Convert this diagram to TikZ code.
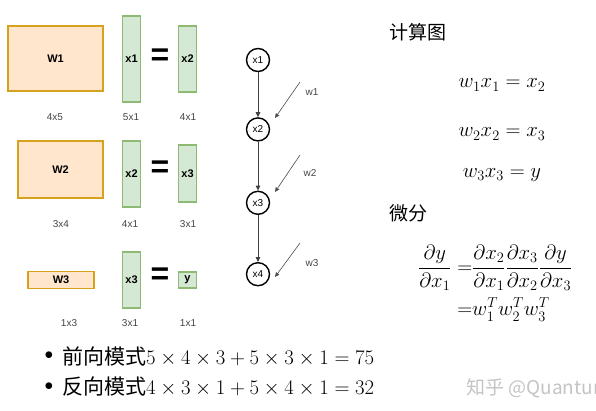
\documentclass[tikz,border=0pt]{standalone}
\usepackage{amsmath}
\usepackage{fontspec}
\usepackage{tikz}
\usetikzlibrary{arrows.meta, positioning}
\newfontfamily\cjk{Noto Sans CJK SC}
\newfontfamily\lblfont{Liberation Sans}
\definecolor{wfill}{HTML}{FFE6CC}
\definecolor{wline}{HTML}{D6A21E}
\definecolor{xfill}{HTML}{D5E8D4}
\definecolor{xline}{HTML}{8DBB74}
\definecolor{dimgray}{HTML}{444444}
\definecolor{markgray}{HTML}{C4C4C4}
\tikzset{
  wmat/.style={rectangle, draw=wline, fill=wfill, line width=1.5pt,
    inner sep=0pt, font=\lblfont\bfseries\fontsize{11}{13}\selectfont},
  xvec/.style={rectangle, draw=xline, fill=xfill, line width=1.5pt,
    inner sep=0pt, minimum width=18pt, font=\lblfont\bfseries\fontsize{11}{13}\selectfont},
  eqsign/.style={inner sep=0pt, font=\lblfont\bfseries\fontsize{32}{32}\selectfont},
  dimlbl/.style={inner sep=0pt, text=dimgray, font=\lblfont\fontsize{10}{12}\selectfont},
  gnode/.style={circle, draw, line width=1.4pt, minimum size=23pt, inner sep=0pt,
    font=\lblfont\fontsize{10}{12}\selectfont},
  wlbl/.style={inner sep=0pt, text=dimgray, font=\lblfont\fontsize{10}{12}\selectfont},
  garrow/.style={-{Triangle[length=5pt,width=4.5pt]}, line width=1pt, draw=black!75},
  warrow/.style={-{Triangle[length=4.5pt,width=4pt]}, line width=0.6pt, draw=black!70},
  mathtxt/.style={inner sep=0pt, font=\fontsize{20}{24}\selectfont},
  bigmath/.style={inner sep=0pt, font=\fontsize{21}{25}\selectfont},
  cjktxt/.style={inner sep=0pt, font=\cjk\fontsize{19}{22}\selectfont}
}

\begin{document}
\begin{tikzpicture}[x=1pt, y=-1pt, node distance=46pt]
  \path[use as bounding box, clip] (0,0) rectangle (596,410);

  % matrices and vectors
  \node[wmat, minimum width=95pt, minimum height=65pt] (W1) at (55.5,58.5) {W1};
  \node[xvec, minimum height=86pt] (x1a) at (131.5,59) {x1};
  \node[eqsign] (eq1) at (160,57) {=};
  \node[xvec, minimum height=66pt] (x2a) at (187.5,59) {x2};
  \node[dimlbl] (d11) at (55,117) {4x5};
  \node[dimlbl] (d12) at (131,117) {5x1};
  \node[dimlbl] (d13) at (188,117) {4x1};

  \node[wmat, minimum width=85pt, minimum height=57pt] (W2) at (60.5,169.5) {W2};
  \node[xvec, minimum height=66pt] (x2b) at (131.5,174) {x2};
  \node[eqsign] (eq2) at (160,169) {=};
  \node[xvec, minimum height=57pt] (x3b) at (187.5,173.5) {x3};
  \node[dimlbl] (d21) at (61,224) {3x4};
  \node[dimlbl] (d22) at (130,224) {4x1};
  \node[dimlbl] (d23) at (188,224) {3x1};

  \node[wmat, minimum width=66pt, minimum height=17pt] (W3) at (61,280) {W3};
  \node[xvec, minimum height=56pt] (x3c) at (131.5,280) {x3};
  \node[eqsign] (eq3) at (160,276) {=};
  \node[xvec, minimum height=16pt] (yv) at (187.5,280) {y};
  \node[dimlbl] (d31) at (69,323) {1x3};
  \node[dimlbl] (d32) at (130,323) {3x1};
  \node[dimlbl] (d33) at (188,323) {1x1};

  % computation graph
  \node[gnode] (n1) at (258,60) {x1};
  \node[gnode, below=45pt of n1] (n2) {x2};
  \node[gnode, below=49pt of n2] (n3) {x3};
  \node[gnode, below=47pt of n3] (n4) {x4};
  \draw[garrow] (n1) -- (n2);
  \draw[garrow] (n2) -- (n3);
  \draw[garrow] (n3) -- (n4);

  \coordinate (w1a) at (300,82);
  \coordinate (w1b) at (275,118);
  \coordinate (w2a) at (300,155);
  \coordinate (w2b) at (275,192);
  \coordinate (w3a) at (300,243);
  \coordinate (w3b) at (275,277);
  \draw[warrow] (w1a) -- (w1b);
  \draw[warrow] (w2a) -- (w2b);
  \draw[warrow] (w3a) -- (w3b);
  \node[wlbl] (lw1) at (312,92) {w1};
  \node[wlbl] (lw2) at (310,173) {w2};
  \node[wlbl] (lw3) at (312,263) {w3};

  % equations
  \node[cjktxt, anchor=west] (hdr1) at (389,32) {计算图};
  \node[mathtxt] (e1) at (502,85) {$w_1x_1=x_2$};
  \node[mathtxt] (e2) at (502,134) {$w_2x_2=x_3$};
  \node[mathtxt] (e3) at (502,175) {$w_3x_3=y$};
  \node[cjktxt, anchor=west] (hdr2) at (389,213) {微分};
  \node[mathtxt, anchor=west] (dd) at (418,284) {$\begin{aligned}
    \frac{\partial y}{\partial x_1}\; &{=}\frac{\partial x_2}{\partial x_1}\frac{\partial x_3}{\partial x_2}\frac{\partial y}{\partial x_3}\\[3pt]
    &{=}w_1^T w_2^T w_3^T
  \end{aligned}$};

  % modes
  \node[mathtxt, font=\fontsize{17}{20}\selectfont] (b1) at (49,356) {$\bullet$};
  \node[bigmath, anchor=west] (m1) at (62,356) {{\cjk 前向模式}$5\times4\times3+5\times3\times1=75$};
  \node[mathtxt, font=\fontsize{17}{20}\selectfont] (b2) at (49,387) {$\bullet$};
  \node[bigmath, anchor=west] (m2) at (62,387) {{\cjk 反向模式}$4\times3\times1+5\times4\times1=32$};
  \node[inner sep=0pt, anchor=west, text=markgray, font=\cjk\fontsize{19}{22}\selectfont] (mark) at (466,388) {知乎 @Quantum};
\end{tikzpicture}
\end{document}
